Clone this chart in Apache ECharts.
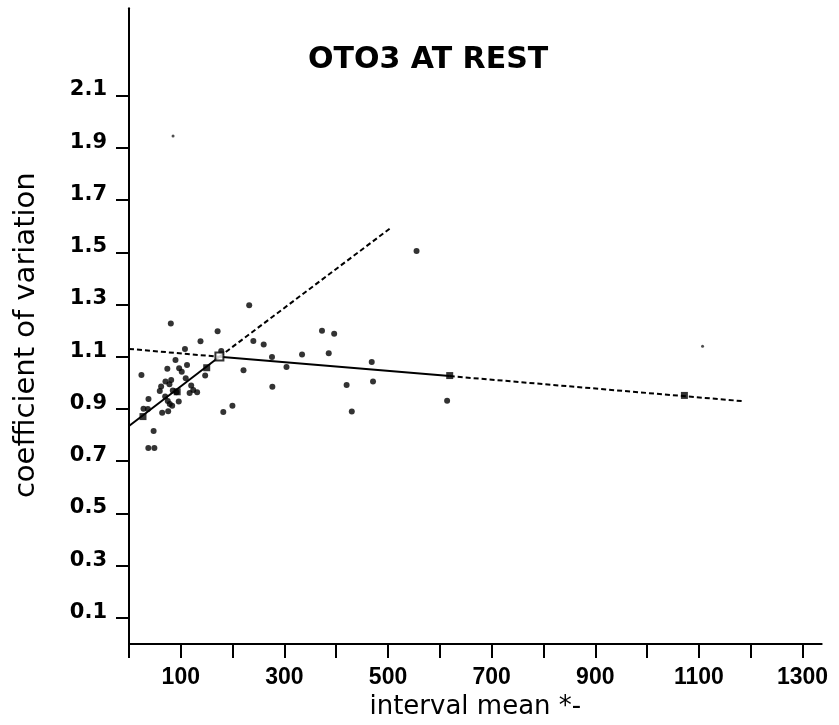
<!DOCTYPE html>
<html>
<head>
<meta charset="utf-8">
<script src="https://cdn.jsdelivr.net/npm/echarts@6/dist/echarts.min.js"></script>
<style>
html,body{margin:0;padding:0;background:#fff;}
#chart{width:839px;height:725px;}
</style>
</head>
<body>
<div id="chart"></div>
<script>
// ---- data ----
var titleText = 'OTO3 AT REST';
var xName = 'interval mean *-';
var yName = 'coefficient of variation';
var xTickValues = [0,100,200,300,400,500,600,700,800,900,1000,1100,1200,1300];
var xLabelValues = [100,300,500,700,900,1100,1300];
var yTickValues = [0.1,0.3,0.5,0.7,0.9,1.1,1.3,1.5,1.7,1.9,2.1];

// individual observations [interval mean, coefficient of variation]
var points = [
  [232,1.297],[80.7,1.227],[171,1.198],[138,1.159],[108,1.13],[240,1.16],[260,1.147],
  [89.7,1.088],[276,1.099],[334,1.109],[74,1.054],[96.8,1.056],[112,1.068],[101.8,1.043],
  [24,1.03],[147,1.028],[221,1.048],[304,1.061],[70.4,1.005],[81.4,1.011],[109.5,1.018],
  [78,0.995],[62,0.986],[59.4,0.969],[69.8,0.948],[120,0.99],[124,0.973],[131.5,0.964],
  [117,0.961],[84.5,0.971],[91.6,0.964],[96,0.929],[78.7,0.919],[74.8,0.931],[37.6,0.938],
  [83.3,0.912],[28,0.901],[36.4,0.9],[64,0.886],[75.6,0.891],[199.6,0.912],[182,0.889],
  [47.5,0.816],[37.3,0.751],[49,0.751],[178,1.122],[372.5,1.2],[396,1.188],[385.5,1.113],
  [468.5,1.08],[420,0.992],[471,1.005],[430,0.89],[614,0.932],[276.7,0.985],[555,1.505]
];
// faint small dots
var faintPoints = [[85,1.945],[1107,1.14]];
// square markers on the fitted lines
var squarePoints = [[27,0.871],[93,0.966],[150,1.058],[619,1.028],[1072,0.952]];
var crossPoint = [[174.5,1.101]];

// fitted line 1 (steep)
var line1Solid = [[0,0.835],[174.5,1.1]];
var line1Dashed = [[174.5,1.1],[503,1.59]];
// fitted line 2 (flat)
var line2DashedLeft = [[0,1.13],[174.5,1.1]];
var line2Solid = [[174.5,1.1],[619,1.026]];
var line2DashedRight = [[619,1.026],[1185,0.93]];

// ---- chart ----
var chart = echarts.init(document.getElementById('chart'), null, {renderer:'canvas'});
var ink = '#000';
function lineSeries(name, data, dashed){
  return {
    name: name, type: 'line', data: data, symbol: 'none', silent: true,
    lineStyle: {color: ink, width: 2, type: dashed ? [5,3] : 'solid'},
    z: 3
  };
}
chart.setOption({
  backgroundColor: '#fff',
  animation: false,
  title: {
    text: titleText, left: 308, top: 45, padding: 0,
    textStyle: {fontFamily: 'DejaVu Sans', fontWeight: 'bold', fontSize: 30, color: ink}
  },
  grid: {left: 129, right: 17.3, top: 8.3, bottom: 78, containLabel: false},
  xAxis: {
    type: 'value', min: 0, max: 1337,
    name: xName, nameLocation: 'middle', nameGap: 45,
    nameTextStyle: {fontFamily: 'DejaVu Sans', fontSize: 26, color: ink},
    axisLine: {show: true, lineStyle: {color: ink, width: 2}},
    axisTick: {show: true, inside: false, length: 14, customValues: xTickValues, lineStyle: {color: ink, width: 2}},
    axisLabel: {customValues: xLabelValues, margin: 22, fontFamily: 'Liberation Sans', fontWeight: 'bold', fontSize: 23, color: ink,
      formatter: function(v){ return String(v); }},
    splitLine: {show: false}
  },
  yAxis: {
    type: 'value', min: 0, max: 2.434,
    name: yName, nameLocation: 'middle', nameGap: 88, nameRotate: 90,
    nameTextStyle: {fontFamily: 'DejaVu Sans', fontSize: 29, color: ink, padding: [0,18,0,0]},
    axisLine: {show: true, lineStyle: {color: ink, width: 2}},
    axisTick: {show: true, inside: false, length: 13, customValues: yTickValues, lineStyle: {color: ink, width: 2}},
    axisLabel: {
      customValues: yTickValues, margin: 22,
      fontFamily: 'DejaVu Sans', fontWeight: 'bold', fontSize: 21, color: ink,
      verticalAlign: 'bottom', lineHeight: 11,
      formatter: function(v){ return v.toFixed(1); }
    },
    splitLine: {show: false}
  },
  series: [
    lineSeries('fit1 solid', line1Solid, false),
    lineSeries('fit1 dashed', line1Dashed, true),
    lineSeries('fit2 dashed left', line2DashedLeft, true),
    lineSeries('fit2 solid', line2Solid, false),
    lineSeries('fit2 dashed right', line2DashedRight, true),
    {name: 'points', type: 'scatter', data: points, symbol: 'circle', symbolSize: 6,
     itemStyle: {color: ink}, z: 4},
    {name: 'faint', type: 'scatter', data: faintPoints, symbol: 'circle', symbolSize: 3,
     itemStyle: {color: '#222'}, z: 4},
    {name: 'means', type: 'scatter', data: squarePoints, symbol: 'rect', symbolSize: 7,
     itemStyle: {color: ink}, z: 5},
    {name: 'intersection', type: 'scatter', data: crossPoint, symbol: 'rect', symbolSize: 8,
     itemStyle: {color: '#fff', borderColor: ink, borderWidth: 2}, z: 5}
  ]
});
</script>
</body>
</html>
